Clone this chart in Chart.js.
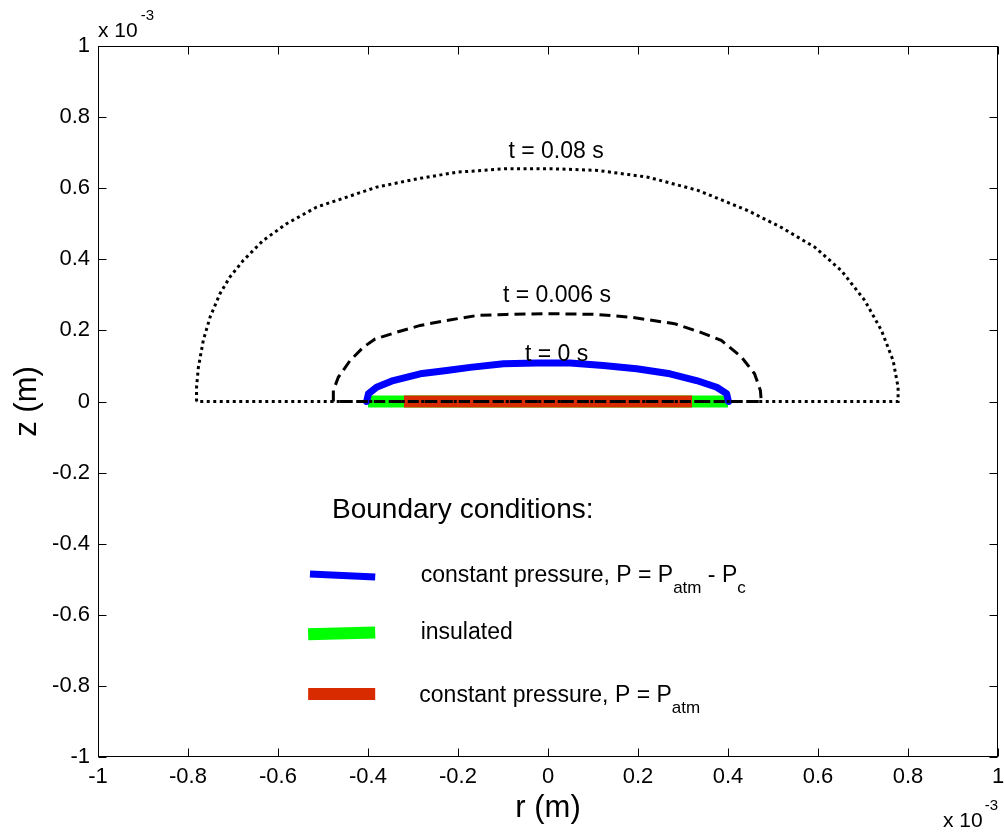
<!DOCTYPE html>
<html>
<head>
<meta charset="utf-8">
<title>Boundary conditions</title>
<script src="https://cdn.jsdelivr.net/npm/chart.js@4.4.1/dist/chart.umd.min.js"></script>
<style>
  html, body { margin: 0; padding: 0; background: #fff; }
  #wrap { width: 1004px; height: 834px; }
</style>
</head>
<body>
<div id="wrap"><canvas id="chart" width="1004" height="834"></canvas></div>
<script>
// axis ticks (values in units of 1e-3 m)
const tickValues = [-1, -0.8, -0.6, -0.4, -0.2, 0, 0.2, 0.4, 0.6, 0.8, 1];

// t = 0.08 s front (dotted, closed along z = 0)
const r008 = [-0.781, -0.781, -0.777, -0.766, -0.751, -0.729, -0.707, -0.677, -0.633, -0.581, -0.514, -0.447, -0.381, -0.292, -0.203, -0.092, 0.004, 0.111, 0.222, 0.333, 0.444, 0.518, 0.593, 0.652, 0.704, 0.741, 0.767, 0.778, 0.778, -0.781];
const z008 = [0, 0.040, 0.096, 0.172, 0.237, 0.303, 0.350, 0.397, 0.453, 0.500, 0.547, 0.575, 0.603, 0.626, 0.645, 0.655, 0.655, 0.650, 0.631, 0.594, 0.537, 0.490, 0.434, 0.368, 0.284, 0.200, 0.115, 0.040, 0, 0];

// t = 0.006 s front (dashed, closed along z = 0)
const r0006 = [-0.477, -0.477, -0.466, -0.440, -0.410, -0.384, -0.336, -0.284, -0.225, -0.158, -0.092, 0.012, 0.108, 0.185, 0.281, 0.338, 0.385, 0.430, 0.459, 0.472, 0.474, -0.477];
const z0006 = [0, 0.031, 0.068, 0.115, 0.153, 0.176, 0.195, 0.214, 0.228, 0.242, 0.245, 0.247, 0.245, 0.237, 0.219, 0.195, 0.172, 0.125, 0.078, 0.031, 0, 0];

// t = 0 s initial shape (blue, constant pressure boundary)
const r0 = [-0.403, -0.399, -0.381, -0.344, -0.284, -0.225, -0.173, -0.099, -0.025, 0.049, 0.123, 0.197, 0.271, 0.330, 0.375, 0.397, 0.401];
const z0 = [0, 0.022, 0.040, 0.059, 0.078, 0.087, 0.096, 0.106, 0.108, 0.108, 0.101, 0.092, 0.078, 0.059, 0.040, 0.022, 0];

// boundary segments on z = 0
const rInsulated = [-0.40, 0.40];
const zInsulated = [0, 0];
const rAtm = [-0.32, 0.32];
const zAtm = [0, 0];

// legend sample strokes
const rKeyBlue = [-0.529, -0.384];
const zKeyBlue = [-0.485, -0.494];
const rKeyGreen = [-0.533, -0.384];
const zKeyGreen = [-0.655, -0.650];
const rKeyRed = [-0.533, -0.384];
const zKeyRed = [-0.823, -0.823];

// text labels, anchored in data units
const timeLabels = [
  { text: 't = 0.08 s', r: 0.018, z: 0.703 },
  { text: 't = 0.006 s', r: 0.02, z: 0.298 },
  { text: 't = 0 s', r: 0.019, z: 0.132 }
];
const legendTitle = { text: 'Boundary conditions:', r: -0.48, z: -0.329 };
const legendTexts = [
  { r: -0.283, z: -0.508, parts: [['constant pressure, P = P', false], ['atm', true], [' - P', false], ['c', true]] },
  { r: -0.283, z: -0.667, parts: [['insulated', false]] },
  { r: -0.286, z: -0.846, parts: [['constant pressure, P = P', false], ['atm', true]] }
];

const FONT = '"Liberation Sans", Arial, sans-serif';
const BLUE = '#0000ff';
const GREEN = '#00ff00';
const RED = '#d92b00';

const zip = (rs, zs) => rs.map((r, i) => ({ x: r, y: zs[i] }));

function drawParts(ctx, parts, x, y) {
  let cx = x;
  parts.forEach(([t, sub]) => {
    ctx.font = (sub ? 17 : 23) + 'px ' + FONT;
    ctx.fillText(t, cx, y + (sub ? 11 : 0));
    cx += ctx.measureText(t).width;
  });
}

// MATLAB-like box with inward ticks, exponent notes and text annotations
const decorations = {
  id: 'decorations',
  afterDatasetsDraw(chart) {
    const { ctx, chartArea: a, scales: { x, y } } = chart;
    ctx.save();
    ctx.strokeStyle = '#000';
    ctx.lineWidth = 1;
    const L = Math.round(a.left) + 0.5, R = Math.round(a.right) - 0.5;
    const T = Math.round(a.top) + 0.5, B = Math.round(a.bottom) - 0.5;
    ctx.strokeRect(L, T, R - L, B - T);
    const tl = 8;
    ctx.beginPath();
    tickValues.forEach(v => {
      const px = Math.round(x.getPixelForValue(v)) + 0.5;
      ctx.moveTo(px, B); ctx.lineTo(px, B - tl);
      ctx.moveTo(px, T); ctx.lineTo(px, T + tl);
      const py = Math.round(y.getPixelForValue(v)) + 0.5;
      ctx.moveTo(L, py); ctx.lineTo(L + tl, py);
      ctx.moveTo(R, py); ctx.lineTo(R - tl, py);
    });
    ctx.stroke();

    ctx.fillStyle = '#000';
    ctx.textBaseline = 'alphabetic';
    ctx.textAlign = 'left';
    // x 10^-3 notes
    ctx.font = '21px ' + FONT;
    ctx.fillText('x 10', a.left, a.top - 9);
    let w = ctx.measureText('x 10').width;
    ctx.font = '15px ' + FONT;
    ctx.fillText('-3', a.left + w + 3, a.top - 26);
    const w3 = ctx.measureText('-3').width;
    ctx.font = '21px ' + FONT;
    w = ctx.measureText('x 10').width;
    ctx.fillText('x 10', a.right - w3 - 2 - w, a.bottom + 70);
    ctx.font = '15px ' + FONT;
    ctx.fillText('-3', a.right - w3, a.bottom + 53);

    // time labels
    ctx.font = '23px ' + FONT;
    ctx.textAlign = 'center';
    ctx.textBaseline = 'middle';
    timeLabels.forEach(l => {
      ctx.fillText(l.text, x.getPixelForValue(l.r), y.getPixelForValue(l.z));
    });

    // legend
    ctx.textAlign = 'left';
    ctx.textBaseline = 'alphabetic';
    ctx.font = '28px ' + FONT;
    ctx.fillText(legendTitle.text, x.getPixelForValue(legendTitle.r), y.getPixelForValue(legendTitle.z));
    legendTexts.forEach(l => {
      drawParts(ctx, l.parts, x.getPixelForValue(l.r), y.getPixelForValue(l.z));
    });
    ctx.restore();
  }
};

const line = (data, color, width, extra) => Object.assign({
  data: data,
  showLine: true,
  borderColor: color,
  borderWidth: width,
  pointRadius: 0,
  fill: false,
  tension: 0
}, extra || {});

// first dataset is drawn on top
const datasets = [
  line(zip(r008, z008), '#000', 3, { borderDash: [3, 3.5] }),
  line(zip(r0006, z0006), '#000', 3, { borderDash: [11, 6] }),
  line(zip(r0, z0), BLUE, 7, { borderCapStyle: 'round', borderJoinStyle: 'round' }),
  line(zip(rAtm, zAtm), RED, 12),
  line(zip(rInsulated, zInsulated), GREEN, 12),
  line(zip(rKeyBlue, zKeyBlue), BLUE, 7),
  line(zip(rKeyGreen, zKeyGreen), GREEN, 12),
  line(zip(rKeyRed, zKeyRed), RED, 12)
];

const tickFont = { family: FONT, size: 22 };
const titleFont = { family: FONT, size: 31 };
const fmt = v => String(+Number(v).toFixed(1));

new Chart(document.getElementById('chart'), {
  type: 'scatter',
  data: { datasets: datasets },
  options: {
    responsive: false,
    animation: false,
    devicePixelRatio: 1,
    layout: { padding: { top: 46, right: 6, left: 0, bottom: 0 } },
    plugins: { legend: { display: false }, tooltip: { enabled: false } },
    scales: {
      x: {
        type: 'linear', min: -1, max: 1,
        grid: { display: false, drawTicks: false },
        border: { display: false },
        afterBuildTicks: s => { s.ticks = tickValues.map(v => ({ value: v })); },
        afterFit: s => { s.height = 77; s.paddingLeft = 0; s.paddingRight = 0; },
        ticks: { font: tickFont, color: '#000', padding: 7, maxRotation: 0, autoSkip: false, callback: fmt },
        title: { display: true, text: 'r (m)', font: titleFont, color: '#000', padding: 7 }
      },
      y: {
        type: 'linear', min: -1, max: 1,
        grid: { display: false, drawTicks: false },
        border: { display: false },
        afterBuildTicks: s => { s.ticks = tickValues.map(v => ({ value: v })); },
        afterFit: s => { s.width = 98; s.paddingTop = 0; s.paddingBottom = 0; },
        ticks: { font: tickFont, color: '#000', padding: 8, autoSkip: false, callback: fmt },
        title: { display: true, text: 'z (m)', font: titleFont, color: '#000', padding: 9 }
      }
    }
  },
  plugins: [decorations]
});
</script>
</body>
</html>
